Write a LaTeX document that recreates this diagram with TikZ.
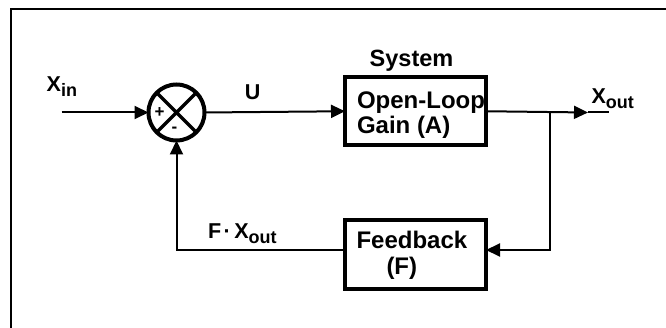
\documentclass[tikz,border=0pt]{standalone}
\usepackage{fontspec}
\setmainfont{Liberation Sans}
\usetikzlibrary{arrows.meta}
\newcommand\lowsub[1]{\raisebox{-0.22em}{\fontsize{18}{18}\selectfont #1}}
\tikzset{
  every node/.style={font=\bfseries\fontsize{21.5}{25}\selectfont, inner sep=0pt, outer sep=0pt},
  boxtext/.style={font=\bfseries\fontsize{24}{26}\selectfont, anchor=base west},
  lbl/.style={anchor=base west},
  blk/.style={draw, line width=4pt, minimum width=141pt, minimum height=68.5pt},
  sumnode/.style={draw, circle, line width=4pt, minimum size=56pt},
  sign/.style={font=\bfseries\fontsize{17}{17}\selectfont},
  conn/.style={line width=2pt},
  arr/.style={conn, -{Triangle[length=14pt,width=13pt]}},
}
\begin{document}
\begin{tikzpicture}[x=1pt,y=-1pt]
\useasboundingbox (0,0) rectangle (666,328);
% frame
\draw[line width=2pt] (666,8.7) -- (11,8.7) -- (11,328);

% summing junction
\node[sumnode] (S) at (176.5,112.5) {};
\draw[line width=3.5pt] (S.45) -- (S.225) (S.135) -- (S.-45);
\node[sign] (plus) at (159.5,112.5) {+};
\node[sign] (minus) at (174.5,130) {-};

% blocks
\node[blk] (A) at (415.5,111.25) {};
\node[blk] (F) at (415.5,254.5) {};

% texts
\node[anchor=base, font=\bfseries\fontsize{23.5}{26}\selectfont] (sys) at (411.5,66.7) {System};
\node[boxtext] (a1) at (357,108.3) {Open-Loop};
\node[boxtext] (a2) at (357,134) {Gain (A)};
\node[boxtext] (f1) at (356.5,248.3) {Feedback};
\node[boxtext] (f2) at (386.5,274.5) {(F)};
\node[anchor=base] (u) at (252.7,100) {U};
\node[lbl] (xin) at (46.7,91.7) {X\lowsub{in}};
\node[lbl] (xout) at (591.5,103.5) {X\lowsub{out}};
\node[lbl] (fx) at (208,238.5) {F\hspace{2.5pt}·\hspace{3.5pt}X\lowsub{out}};

% connectors
\coordinate (in) at (61.7,112.5);
\coordinate (br) at (550,112.5);
\coordinate (otip) at (588,112.5);
\coordinate (oend) at (609,112.5);
\coordinate (fbr) at (550,250);
\coordinate (fbl) at (345,250);

\draw[arr] (in) -- (S.west);
\draw[arr] (S.east) -- (A.west);
\draw[arr] (A.east) -- (otip);
\draw[conn] (otip) -- (oend);
\draw[arr] (br) -- (fbr) -- (F.east |- fbr);
\draw[arr] (fbl) -| (S.south);
\end{tikzpicture}
\end{document}
